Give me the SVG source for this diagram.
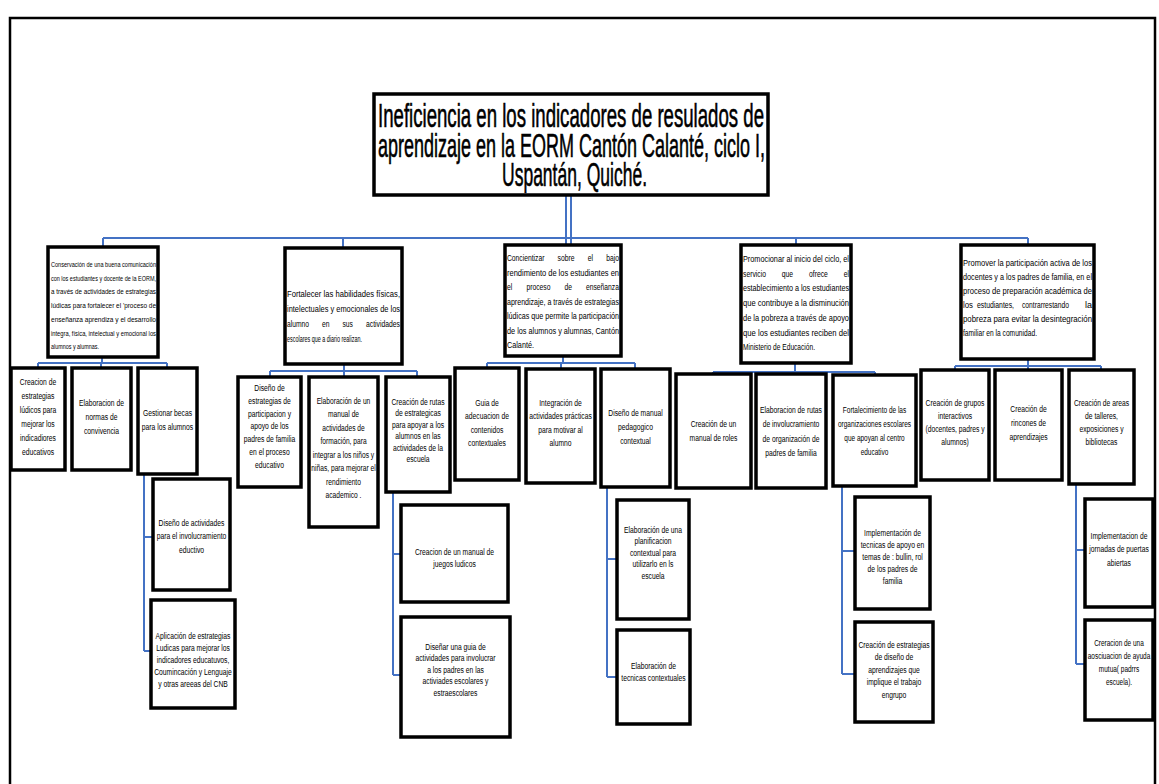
<svg xmlns="http://www.w3.org/2000/svg" width="1159" height="784" viewBox="0 0 1159 784">
<style>
.box{fill:#fff;stroke:#000;stroke-width:3.5}
.conn path{stroke:#4472c4;stroke-width:2;fill:none}
.t{font-family:"Liberation Sans",Arial,sans-serif;fill:#000;font-size:9px}
.t text{text-anchor:middle}
.j{font-family:"Liberation Sans",Arial,sans-serif;font-size:9px;fill:#000}
.s{font-size:8px}
.title{font-family:"Liberation Sans",Arial,sans-serif;font-size:33px;fill:#000;stroke:#000;stroke-width:0.6}
</style>
<rect width="1159" height="784" fill="#fff"/>
<rect x="10" y="18" width="1145" height="800" fill="none" stroke="#000" stroke-width="2.5"/>

<g id="connectors" class="conn">
<path d="M566 196V245M571 196V245"/>
<path d="M103 238H1028"/>
<path d="M103 238V247M343 238V248M796 238V245M1028 238V245"/>
<path d="M102 357V363M38 363H167M38 363V368M101 363V368M167 363V368"/>
<path d="M144 474V651M144 537H153M144 651H151"/>
<path d="M344 364V371M270 371H417M270 371V377M344 371V377M417 371V377"/>
<path d="M393 492V675M393 554H401M393 675H401"/>
<path d="M563 356V363M487 363H635M487 363V368M561 363V369M635 363V369"/>
<path d="M607 487V677M607 559H617M607 677H617"/>
<path d="M795 363V372M713 372H875M713 372V374M791 372V374M875 372V375"/>
<path d="M842 486V674M842 551H855M842 674H855"/>
<path d="M1028 359V366M955 366H1101M955 366V370M1028 366V370M1101 366V370"/>
<path d="M1076 484V664M1076 550H1085M1076 664H1085"/>
</g>

<g id="n-title">
<rect class="box" x="374" y="94" width="394" height="101" stroke-width="4"/>
<text class="title" x="378" y="127" textLength="386" lengthAdjust="spacingAndGlyphs">Ineficiencia en los indicadores de resulados de</text>
<text class="title" x="378" y="157" textLength="387" lengthAdjust="spacingAndGlyphs">aprendizaje en la EORM Cantón Calanté, ciclo I,</text>
<text class="title" x="502" y="186" textLength="145" lengthAdjust="spacingAndGlyphs">Uspantán, Quiché.</text>
</g>

<g id="n-b1">
<rect class="box" x="48" y="247" width="110" height="110"/>
<g class="j s">
<text x="51" y="267" textLength="105" lengthAdjust="spacingAndGlyphs">Conservación de una buena comunicación</text>
<text x="51" y="280.7" textLength="105" lengthAdjust="spacingAndGlyphs">con los estudiantes y docente de la EORM,</text>
<text x="51" y="294.4" textLength="105" lengthAdjust="spacingAndGlyphs">a través de actividades de estrategias</text>
<text x="51" y="308" textLength="105" lengthAdjust="spacingAndGlyphs">lúdicas para fortalecer el 'proceso de</text>
<text x="51" y="321.8" textLength="105" lengthAdjust="spacingAndGlyphs">enseñanza aprendiza y el desarrollo</text>
<text x="51" y="335.5" textLength="105" lengthAdjust="spacingAndGlyphs">integra, física, intelectual y emocional los</text>
<text x="51" y="349" textLength="48" lengthAdjust="spacingAndGlyphs">alumnos y alumnas.</text>
</g>
</g>

<g id="n-b2">
<rect class="box" x="285" y="248" width="117" height="116"/>
<g class="j">
<text x="287" y="297" textLength="113" lengthAdjust="spacingAndGlyphs">Fortalecer las habilidades físicas,</text>
<text x="287" y="312" textLength="113" lengthAdjust="spacingAndGlyphs">intelectuales y emocionales de los</text>
<text x="287" y="327" textLength="22" lengthAdjust="spacingAndGlyphs">alumno</text>
<text x="322" y="327" textLength="7.5" lengthAdjust="spacingAndGlyphs">en</text>
<text x="342.5" y="327" textLength="10.5" lengthAdjust="spacingAndGlyphs">sus</text>
<text x="366" y="327" textLength="34" lengthAdjust="spacingAndGlyphs">actividades</text>
<text x="287" y="342" textLength="75" lengthAdjust="spacingAndGlyphs">escolares que a diario realizan.</text>
</g>
</g>

<g id="n-b3">
<rect class="box" x="505" y="245" width="116" height="111"/>
<g class="j">
<text x="507" y="261" textLength="37.5" lengthAdjust="spacingAndGlyphs">Concientizar</text>
<text x="557.6" y="261" textLength="17" lengthAdjust="spacingAndGlyphs">sobre</text>
<text x="587.7" y="261" textLength="5.3" lengthAdjust="spacingAndGlyphs">el</text>
<text x="606.2" y="261" textLength="12.8" lengthAdjust="spacingAndGlyphs">bajo</text>
<text x="507" y="275.5" textLength="112" lengthAdjust="spacingAndGlyphs">rendimiento de los estudiantes en</text>
<text x="507" y="290" textLength="5.3" lengthAdjust="spacingAndGlyphs">el</text>
<text x="526.4" y="290" textLength="24" lengthAdjust="spacingAndGlyphs">proceso</text>
<text x="564.5" y="290" textLength="7.5" lengthAdjust="spacingAndGlyphs">de</text>
<text x="586" y="290" textLength="33" lengthAdjust="spacingAndGlyphs">enseñanza</text>
<text x="507" y="304.5" textLength="112" lengthAdjust="spacingAndGlyphs">aprendizaje, a través de estrategias</text>
<text x="507" y="319" textLength="112" lengthAdjust="spacingAndGlyphs">lúdicas que permite la participación</text>
<text x="507" y="333.5" textLength="112" lengthAdjust="spacingAndGlyphs">de los alumnos y alumnas, Cantón</text>
<text x="507" y="348" textLength="27" lengthAdjust="spacingAndGlyphs">Calanté.</text>
</g>
</g>

<g id="n-b4">
<rect class="box" x="741" y="245" width="110" height="118" stroke-width="4.5"/>
<g class="j">
<text x="743" y="262" textLength="106" lengthAdjust="spacingAndGlyphs">Promocionar al inicio del ciclo, el</text>
<text x="743" y="276.7" textLength="22.9" lengthAdjust="spacingAndGlyphs">servicio</text>
<text x="781.8" y="276.7" textLength="11.3" lengthAdjust="spacingAndGlyphs">que</text>
<text x="809" y="276.7" textLength="18.8" lengthAdjust="spacingAndGlyphs">ofrece</text>
<text x="843.7" y="276.7" textLength="5.3" lengthAdjust="spacingAndGlyphs">el</text>
<text x="743" y="291.4" textLength="106" lengthAdjust="spacingAndGlyphs">establecimiento a los estudiantes</text>
<text x="743" y="306.1" textLength="106" lengthAdjust="spacingAndGlyphs">que contribuye a la disminución</text>
<text x="743" y="320.8" textLength="106" lengthAdjust="spacingAndGlyphs">de la pobreza a través de apoyo</text>
<text x="743" y="335.5" textLength="106" lengthAdjust="spacingAndGlyphs">que los estudiantes reciben del</text>
<text x="743" y="350.2" textLength="72" lengthAdjust="spacingAndGlyphs">Ministerio de Educación.</text>
</g>
</g>

<g id="n-b5">
<rect class="box" x="961" y="245" width="133" height="114"/>
<g class="j">
<text x="963" y="266" textLength="129" lengthAdjust="spacingAndGlyphs">Promover la participación activa de los</text>
<text x="963" y="280" textLength="129" lengthAdjust="spacingAndGlyphs">docentes y a los padres de familia, en el</text>
<text x="963" y="294" textLength="129" lengthAdjust="spacingAndGlyphs">proceso de preparación académica de</text>
<text x="963" y="308" textLength="10" lengthAdjust="spacingAndGlyphs">los</text>
<text x="977" y="308" textLength="37" lengthAdjust="spacingAndGlyphs">estudiantes,</text>
<text x="1022" y="308" textLength="47" lengthAdjust="spacingAndGlyphs">contrarrestando</text>
<text x="1085" y="308" textLength="7" lengthAdjust="spacingAndGlyphs">la</text>
<text x="963" y="322" textLength="129" lengthAdjust="spacingAndGlyphs">pobreza para evitar la desintegración</text>
<text x="963" y="336" textLength="74" lengthAdjust="spacingAndGlyphs">familiar en la comunidad.</text>
</g>
</g>

<g id="n-g1a">
<rect class="box" x="11" y="368" width="54" height="102"/>
<g class="t" transform="translate(38 0) scale(0.75 1)">
<text y="385">Creacion de</text><text y="399">estrategias</text><text y="413">lúdicos para</text><text y="427">mejorar los</text><text y="441">indicadiores</text><text y="455">educativos</text>
</g>
</g>
<g id="n-g1b">
<rect class="box" x="72" y="368" width="59" height="102"/>
<g class="t" transform="translate(101.5 0) scale(0.75 1)">
<text y="406">Elaboracion de</text><text y="420">normas de</text><text y="434">convivencia</text>
</g>
</g>
<g id="n-g1c">
<rect class="box" x="138" y="368" width="59" height="106"/>
<g class="t" transform="translate(167.5 0) scale(0.75 1)">
<text y="416">Gestionar becas</text><text y="430">para los alumnos</text>
</g>
</g>
<g id="n-g1c1">
<rect class="box" x="153" y="479" width="77" height="111"/>
<g class="t" transform="translate(191.5 0) scale(0.75 1)">
<text y="526">Diseño de actividades</text><text y="539">para el involucramiento</text><text y="553">eductivo</text>
</g>
</g>
<g id="n-g1c2">
<rect class="box" x="151" y="600" width="84" height="108"/>
<g class="t" transform="translate(193 0) scale(0.75 1)" font-size="8.5">
<text y="639">Aplicación de estrategias</text><text y="651">Ludicas para mejorar los</text><text y="663">indicadores educatuvos,</text><text y="675">Coumincación y Lenguaje</text><text y="687">y otras areeas del CNB</text>
</g>
</g>

<g id="n-g2a">
<rect class="box" x="238" y="377" width="63" height="110"/>
<g class="t" transform="translate(269.5 0) scale(0.75 1)">
<text y="391">Diseño de</text><text y="403.8">estrategias de</text><text y="416.6">participacion y</text><text y="429.4">apoyo de los</text><text y="442.2">padres de familia</text><text y="455">en el proceso</text><text y="467.8">educativo</text>
</g>
</g>
<g id="n-g2b">
<rect class="box" x="309" y="377" width="69" height="150"/>
<g class="t" transform="translate(343.5 0) scale(0.74 1)">
<text y="404">Elaboración de un</text><text y="417.5">manual de</text><text y="431">actividades de</text><text y="444.5">formación, para</text><text y="458">integrar a los niños y</text><text y="471.5">niñas, para mejorar el</text><text y="485">rendimiento</text><text y="498.5">academico .</text>
</g>
</g>
<g id="n-g2c">
<rect class="box" x="386" y="377" width="64" height="115"/>
<g class="t" transform="translate(418 0) scale(0.75 1)" font-size="8.5">
<text y="405">Creación de rutas</text><text y="416.5">de estrategicas</text><text y="428">para apoyar a los</text><text y="439.5">alumnos en las</text><text y="451">actividades de la</text><text y="462.5">escuela</text>
</g>
</g>
<g id="n-g2c1">
<rect class="box" x="401" y="505" width="107" height="97"/>
<g class="t" transform="translate(454.5 0) scale(0.75 1)">
<text y="555">Creacion de un manual de</text><text y="567">juegos ludicos</text>
</g>
</g>
<g id="n-g2c2">
<rect class="box" x="401" y="617" width="109" height="120"/>
<g class="t" transform="translate(455.5 0) scale(0.75 1)" font-size="8.5">
<text y="650">Diseñar una guia de</text><text y="661.5">actividades para involucrar</text><text y="673">a los padres en las</text><text y="684.5">activiades escolares y</text><text y="696">estraescolares</text>
</g>
</g>

<g id="n-g3a">
<rect class="box" x="455" y="368" width="64" height="112"/>
<g class="t" transform="translate(487 0) scale(0.75 1)">
<text y="406">Guia de</text><text y="419.5">adecuacion de</text><text y="433">contenidos</text><text y="446.5">contextuales</text>
</g>
</g>
<g id="n-g3b">
<rect class="box" x="526" y="369" width="69" height="114"/>
<g class="t" transform="translate(560.5 0) scale(0.75 1)">
<text y="406">Integración de</text><text y="419.5">actividades prácticas</text><text y="433">para motivar al</text><text y="446.5">alumno</text>
</g>
</g>
<g id="n-g3c">
<rect class="box" x="601" y="369" width="69" height="118"/>
<g class="t" transform="translate(635.5 0) scale(0.75 1)">
<text y="416">Diseño de manual</text><text y="430">pedagogico</text><text y="444">contextual</text>
</g>
</g>
<g id="n-g3c1">
<rect class="box" x="617" y="500" width="72" height="119"/>
<g class="t" transform="translate(653 0) scale(0.75 1)" font-size="8.5">
<text y="533">Elaboración de una</text><text y="544.5">planificacion</text><text y="556">contextual para</text><text y="567.5">utilizarlo en ls</text><text y="579">escuela</text>
</g>
</g>
<g id="n-g3c2">
<rect class="box" x="617" y="630" width="73" height="94"/>
<g class="t" transform="translate(653.5 0) scale(0.75 1)">
<text y="669">Elaboración de</text><text y="681">tecnicas contextuales</text>
</g>
</g>

<g id="n-g4a">
<rect class="box" x="676" y="374" width="75" height="114"/>
<g class="t" transform="translate(713.5 0) scale(0.75 1)">
<text y="427">Creación de un</text><text y="441">manual de roles</text>
</g>
</g>
<g id="n-g4b">
<rect class="box" x="756" y="374" width="70" height="114"/>
<g class="t" transform="translate(791 0) scale(0.75 1)">
<text y="413">Elaboracion de rutas</text><text y="427.5">de involucramiento</text><text y="442">de organización de</text><text y="456.5">padres de familia</text>
</g>
</g>
<g id="n-g4c">
<rect class="box" x="833" y="375" width="83" height="111"/>
<g class="t" transform="translate(874.5 0) scale(0.72 1)">
<text y="413">Fortalecimiento de las</text><text y="427">organizaciones escolares</text><text y="441">que apoyan al centro</text><text y="455">educativo</text>
</g>
</g>
<g id="n-g4c1">
<rect class="box" x="855" y="497" width="75" height="112"/>
<g class="t" transform="translate(892.5 0) scale(0.75 1)">
<text y="536">Implementación de</text><text y="548">tecnicas de apoyo en</text><text y="560">temas de : bullin, rol</text><text y="572">de los padres de</text><text y="584">familia</text>
</g>
</g>
<g id="n-g4c2">
<rect class="box" x="855" y="622" width="78" height="100"/>
<g class="t" transform="translate(894 0) scale(0.75 1)">
<text y="648">Creación de estrategias</text><text y="660.5">de diseño de</text><text y="673">aprendizajes que</text><text y="685.5">implique el trabajo</text><text y="698">engrupo</text>
</g>
</g>

<g id="n-g5a">
<rect class="box" x="921" y="370" width="68" height="110"/>
<g class="t" transform="translate(955 0) scale(0.75 1)">
<text y="406">Creación de grupos</text><text y="419">interactivos</text><text y="432">(docentes, padres y</text><text y="445">alumnos)</text>
</g>
</g>
<g id="n-g5b">
<rect class="box" x="995" y="370" width="67" height="110"/>
<g class="t" transform="translate(1028.5 0) scale(0.75 1)">
<text y="412">Creación de</text><text y="426">rincones de</text><text y="440">aprendizajes</text>
</g>
</g>
<g id="n-g5c">
<rect class="box" x="1069" y="370" width="65" height="114"/>
<g class="t" transform="translate(1101.5 0) scale(0.75 1)">
<text y="406">Creación de areas</text><text y="419">de talleres,</text><text y="432">exposiciones y</text><text y="445">bibliotecas</text>
</g>
</g>
<g id="n-g5c1">
<rect class="box" x="1085" y="499" width="68" height="108"/>
<g class="t" transform="translate(1119 0) scale(0.75 1)">
<text y="539">Implementacion de</text><text y="552">jornadas de puertas</text><text y="566">abiertas</text>
</g>
</g>
<g id="n-g5c2">
<rect class="box" x="1085" y="620" width="68" height="100"/>
<g class="t" transform="translate(1119 0) scale(0.72 1)">
<text y="646">Creracion de una</text><text y="659">aosciuacion de ayuda</text><text y="672">mutua( padrrs</text><text y="685">escuela).</text>
</g>
</g>
</svg>
